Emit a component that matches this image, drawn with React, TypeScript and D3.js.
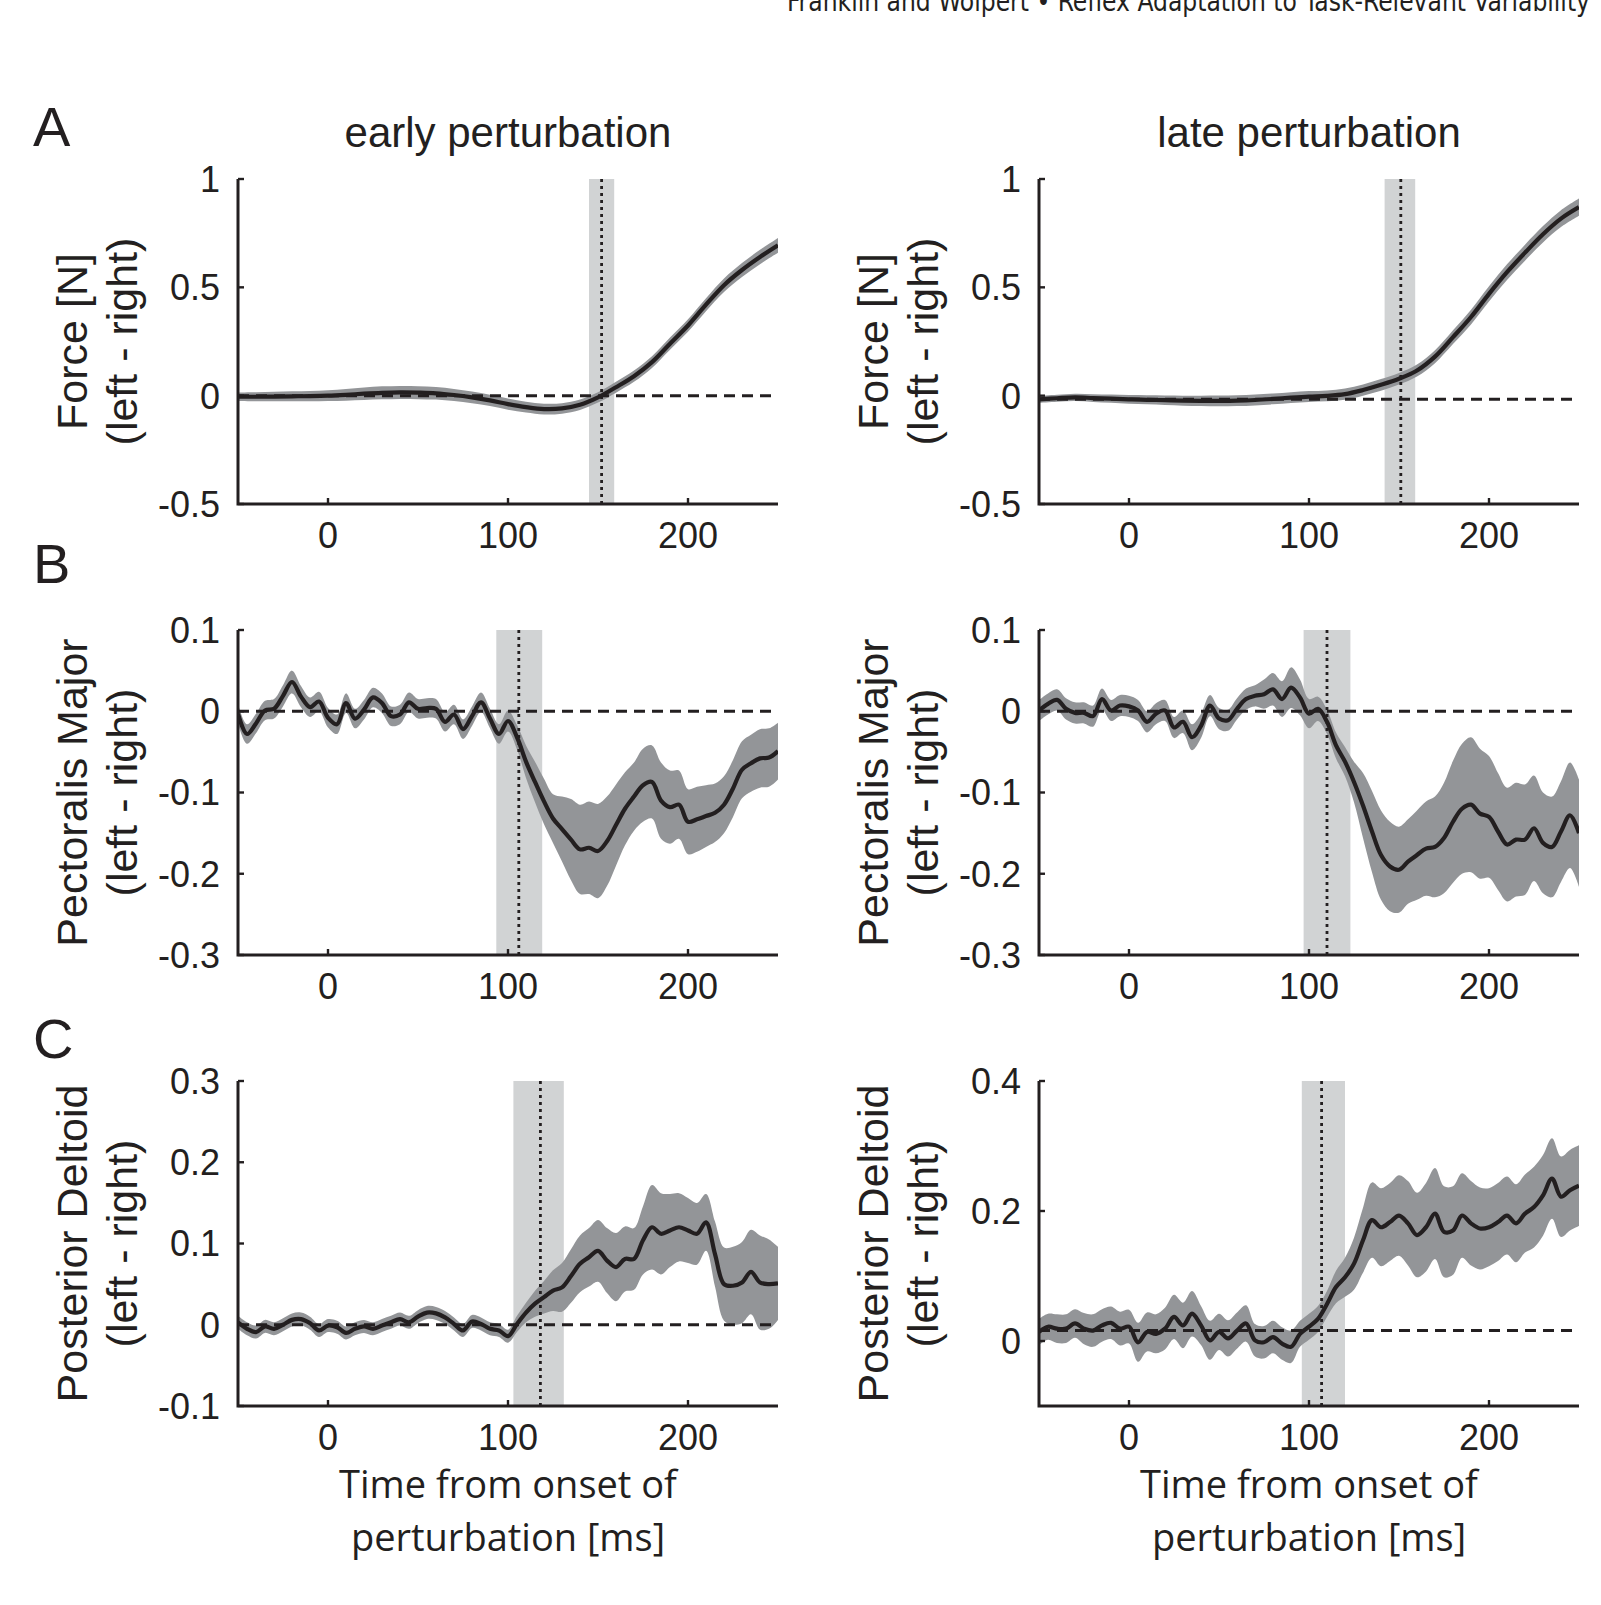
import * as d3 from 'd3'

// time grids, ms from onset of perturbation
const timeCoarse = [-50, -40, -30, -20, -10, 0, 10, 20, 30, 40, 50, 60, 70, 80, 90, 100, 110, 120, 130, 140, 150, 160, 170, 180, 190, 200, 210, 220, 230, 240, 250]
const timeFine = [-50, -45, -40, -35, -30, -25, -20, -15, -10, -5, 0, 5, 10, 15, 20, 25, 30, 35, 40, 45, 50, 55, 60, 65, 70, 75, 80, 85, 90, 95, 100, 105, 110, 115, 120, 125, 130, 135, 140, 145, 150, 155, 160, 165, 170, 175, 180, 185, 190, 195, 200, 205, 210, 215, 220, 225, 230, 235, 240, 245, 250]

// A: force
const forceEarlyMean = [-0.005, -0.005, -0.004, -0.003, -0.002, 0, 0.004, 0.009, 0.013, 0.015, 0.014, 0.011, 0.003, -0.008, -0.022, -0.039, -0.053, -0.062, -0.059, -0.042, -0.008, 0.039, 0.09, 0.155, 0.24, 0.324, 0.42, 0.51, 0.58, 0.64, 0.694]
const forceEarlySe = [0.02, 0.021, 0.022, 0.023, 0.024, 0.025, 0.027, 0.029, 0.03, 0.03, 0.03, 0.029, 0.028, 0.027, 0.026, 0.026, 0.025, 0.025, 0.024, 0.024, 0.024, 0.025, 0.026, 0.027, 0.028, 0.029, 0.03, 0.031, 0.032, 0.033, 0.034]
const forceLateMean = [-0.017, -0.012, -0.008, -0.011, -0.014, -0.017, -0.019, -0.021, -0.023, -0.024, -0.024, -0.023, -0.02, -0.015, -0.009, -0.004, -0.001, 0.007, 0.026, 0.05, 0.078, 0.116, 0.18, 0.27, 0.363, 0.47, 0.57, 0.66, 0.745, 0.817, 0.87]
const forceLateSe = [0.016, 0.016, 0.017, 0.018, 0.019, 0.02, 0.021, 0.022, 0.023, 0.024, 0.025, 0.025, 0.025, 0.025, 0.025, 0.025, 0.025, 0.026, 0.026, 0.027, 0.027, 0.028, 0.03, 0.032, 0.034, 0.035, 0.036, 0.037, 0.038, 0.039, 0.04]

// B: pectoralis major
const pectEarlyMean = [-0.003, -0.028, -0.015, 0.001, 0.003, 0.019, 0.036, 0.018, 0.005, 0.012, -0.008, -0.016, 0.01, -0.009, 0.002, 0.017, 0.01, -0.006, -0.004, 0.011, 0.003, 0.004, 0.003, -0.013, -0.004, -0.022, -0.006, 0.011, -0.009, -0.028, -0.012, -0.032, -0.062, -0.087, -0.111, -0.132, -0.145, -0.158, -0.17, -0.168, -0.172, -0.16, -0.14, -0.12, -0.105, -0.091, -0.087, -0.11, -0.118, -0.115, -0.136, -0.133, -0.129, -0.125, -0.115, -0.095, -0.072, -0.064, -0.058, -0.057, -0.049]
const pectEarlySe = [0.012, 0.012, 0.012, 0.012, 0.012, 0.013, 0.014, 0.013, 0.012, 0.012, 0.012, 0.012, 0.012, 0.012, 0.012, 0.012, 0.012, 0.012, 0.012, 0.012, 0.012, 0.012, 0.012, 0.012, 0.012, 0.012, 0.012, 0.012, 0.012, 0.012, 0.013, 0.015, 0.02, 0.025, 0.028, 0.03, 0.04, 0.05, 0.055, 0.057, 0.058, 0.055, 0.05, 0.045, 0.042, 0.045, 0.045, 0.047, 0.045, 0.042, 0.04, 0.04, 0.038, 0.036, 0.035, 0.035, 0.035, 0.035, 0.036, 0.036, 0.035]
const pectLateMean = [0.001, 0.009, 0.014, 0.003, -0.002, -0.002, -0.006, 0.015, 0.001, 0.007, 0.006, 0.001, -0.013, -0.003, 0.001, -0.02, -0.013, -0.032, -0.018, 0.007, -0.009, -0.011, 0.003, 0.015, 0.019, 0.021, 0.027, 0.015, 0.029, 0.017, -0.003, 0.003, -0.013, -0.042, -0.062, -0.087, -0.116, -0.148, -0.177, -0.191, -0.195, -0.185, -0.177, -0.169, -0.167, -0.156, -0.136, -0.12, -0.115, -0.126, -0.13, -0.148, -0.164, -0.158, -0.158, -0.144, -0.162, -0.167, -0.148, -0.128, -0.15]
const pectLateSe = [0.013, 0.013, 0.013, 0.013, 0.013, 0.013, 0.013, 0.013, 0.013, 0.013, 0.013, 0.013, 0.013, 0.013, 0.013, 0.013, 0.014, 0.016, 0.015, 0.013, 0.013, 0.013, 0.013, 0.013, 0.013, 0.018, 0.02, 0.022, 0.025, 0.022, 0.018, 0.015, 0.015, 0.016, 0.018, 0.025, 0.04, 0.05, 0.055, 0.055, 0.053, 0.052, 0.055, 0.058, 0.062, 0.068, 0.075, 0.08, 0.083, 0.08, 0.075, 0.072, 0.07, 0.07, 0.068, 0.065, 0.062, 0.062, 0.062, 0.065, 0.066]

// C: posterior deltoid
const deltEarlyMean = [0.003, -0.005, -0.009, -0.002, -0.005, 0, 0.006, 0.007, 0.002, -0.007, -0.001, -0.003, -0.01, -0.005, -0.002, -0.005, -0.001, 0.003, 0.007, 0.003, 0.01, 0.015, 0.014, 0.009, 0.001, -0.007, 0.004, 0.001, -0.005, -0.007, -0.014, 0.001, 0.015, 0.026, 0.034, 0.042, 0.046, 0.06, 0.075, 0.083, 0.091, 0.079, 0.071, 0.081, 0.081, 0.104, 0.12, 0.112, 0.116, 0.12, 0.116, 0.112, 0.126, 0.087, 0.05, 0.048, 0.052, 0.065, 0.052, 0.05, 0.051]
const deltEarlySe = [0.008, 0.008, 0.008, 0.008, 0.008, 0.008, 0.008, 0.008, 0.008, 0.008, 0.008, 0.008, 0.008, 0.008, 0.008, 0.008, 0.008, 0.008, 0.008, 0.008, 0.008, 0.008, 0.008, 0.008, 0.008, 0.008, 0.008, 0.008, 0.008, 0.008, 0.008, 0.01, 0.012, 0.016, 0.02, 0.025, 0.03, 0.033, 0.035, 0.036, 0.038, 0.04, 0.042, 0.04, 0.038, 0.042, 0.052, 0.05, 0.045, 0.042, 0.04, 0.038, 0.035, 0.04, 0.045, 0.048, 0.05, 0.052, 0.058, 0.055, 0.045]
const deltLateMean = [0.014, 0.022, 0.019, 0.019, 0.027, 0.019, 0.016, 0.024, 0.028, 0.019, 0.022, -0.002, 0.014, 0.011, 0.019, 0.037, 0.024, 0.042, 0.024, 0.001, 0.014, 0.004, 0.016, 0.027, 0.001, -0.002, 0.006, -0.004, -0.009, 0.011, 0.022, 0.034, 0.057, 0.083, 0.098, 0.119, 0.155, 0.186, 0.175, 0.183, 0.193, 0.181, 0.163, 0.175, 0.196, 0.168, 0.17, 0.193, 0.181, 0.173, 0.175, 0.183, 0.193, 0.181, 0.196, 0.206, 0.224, 0.25, 0.222, 0.232, 0.239]
const deltLateSe = [0.02, 0.02, 0.022, 0.022, 0.022, 0.024, 0.025, 0.025, 0.025, 0.026, 0.026, 0.03, 0.03, 0.03, 0.032, 0.034, 0.035, 0.035, 0.03, 0.03, 0.028, 0.028, 0.028, 0.028, 0.025, 0.025, 0.025, 0.025, 0.025, 0.02, 0.02, 0.02, 0.02, 0.025, 0.03, 0.04, 0.05, 0.058, 0.06, 0.06, 0.062, 0.065, 0.065, 0.068, 0.07, 0.07, 0.068, 0.065, 0.065, 0.063, 0.06, 0.06, 0.06, 0.06, 0.06, 0.062, 0.062, 0.062, 0.062, 0.062, 0.062]

// reflex windows [start, end] and mean onset (ms), baselines
const windowsEarly = [[145, 159], [93.5, 119], [103, 131]]
const windowsLate = [[142, 159], [97, 123], [96, 120]]
const onsetEarly = [152, 106, 118]
const onsetLate = [151, 110, 107]
const baselineEarly = [0, 0, 0]
const baselineLate = [-0.017, 0, 0.016]

const xTicks = [0, 100, 200]
const forceTicks = [-0.5, 0, 0.5, 1]
const pectTicks = [-0.3, -0.2, -0.1, 0, 0.1]
const deltEarlyTicks = [-0.1, 0, 0.1, 0.2, 0.3]
const deltLateTicks = [0, 0.2, 0.4]

const columnTitles = ['early perturbation', 'late perturbation']
const rowLabels = [
  ['Force [N]', '(left - right)'],
  ['Pectoralis Major', '(left - right)'],
  ['Posterior Deltoid', '(left - right)'],
]
const xLabel = ['Time from onset of', 'perturbation [ms]']
const header = 'Franklin and Wolpert \u2022 Reflex Adaptation to Task-Relevant Variability'

const W = 1601
const H = 1605
const colX = [238, 1039]
const rowY = [179, 630, 1081]
const plotW = 540
const plotH = 325
const ink = '#231f20'
const sans = 'Liberation Sans, Arial, Helvetica, sans-serif'

type PanelDef = {
  key: string
  col: number
  row: number
  t: number[]
  mean: number[]
  se: number[]
  domain: [number, number]
  ticks: number[]
  win: number[]
  onset: number
  base: number
}

const panels: PanelDef[] = [
  { key: 'a0', col: 0, row: 0, t: timeCoarse, mean: forceEarlyMean, se: forceEarlySe, domain: [-0.5, 1], ticks: forceTicks, win: windowsEarly[0], onset: onsetEarly[0], base: baselineEarly[0] },
  { key: 'a1', col: 1, row: 0, t: timeCoarse, mean: forceLateMean, se: forceLateSe, domain: [-0.5, 1], ticks: forceTicks, win: windowsLate[0], onset: onsetLate[0], base: baselineLate[0] },
  { key: 'b0', col: 0, row: 1, t: timeFine, mean: pectEarlyMean, se: pectEarlySe, domain: [-0.3, 0.1], ticks: pectTicks, win: windowsEarly[1], onset: onsetEarly[1], base: baselineEarly[1] },
  { key: 'b1', col: 1, row: 1, t: timeFine, mean: pectLateMean, se: pectLateSe, domain: [-0.3, 0.1], ticks: pectTicks, win: windowsLate[1], onset: onsetLate[1], base: baselineLate[1] },
  { key: 'c0', col: 0, row: 2, t: timeFine, mean: deltEarlyMean, se: deltEarlySe, domain: [-0.1, 0.3], ticks: deltEarlyTicks, win: windowsEarly[2], onset: onsetEarly[2], base: baselineEarly[2] },
  { key: 'c1', col: 1, row: 2, t: timeFine, mean: deltLateMean, se: deltLateSe, domain: [-0.1, 0.4], ticks: deltLateTicks, win: windowsLate[2], onset: onsetLate[2], base: baselineLate[2] },
]

type Pt = { t: number; m: number; s: number }

function Panel({ p }: { p: PanelDef }) {
  const left = colX[p.col]
  const top = rowY[p.row]
  const x = d3.scaleLinear([-50, 250], [left, left + plotW])
  const y = d3.scaleLinear(p.domain, [top + plotH, top])
  const pts: Pt[] = p.t.map((t, i) => ({ t, m: p.mean[i], s: p.se[i] }))

  const area = d3
    .area<Pt>()
    .x((d) => x(d.t))
    .y0((d) => y(d.m - d.s))
    .y1((d) => y(d.m + d.s))
    .curve(d3.curveCatmullRom)
  const line = d3
    .line<Pt>()
    .x((d) => x(d.t))
    .y((d) => y(d.m))
    .curve(d3.curveCatmullRom)

  const bottom = top + plotH
  const clip = `clip-${p.key}`

  return (
    <g>
      <clipPath id={clip}>
        <rect x={left} y={top} width={plotW} height={plotH} />
      </clipPath>
      <g clipPath={`url(#${clip})`}>
        <rect x={x(p.win[0])} y={top} width={x(p.win[1]) - x(p.win[0])} height={plotH} fill="#d1d3d4" />
        <path d={area(pts) ?? ''} fill="#939598" />
        <line x1={left} x2={left + plotW} y1={y(p.base)} y2={y(p.base)} stroke={ink} strokeWidth={3} strokeDasharray="11,7" />
        <line x1={x(p.onset)} x2={x(p.onset)} y1={top} y2={bottom} stroke={ink} strokeWidth={2.8} strokeDasharray="3,4" />
        <path d={line(pts) ?? ''} fill="none" stroke={ink} strokeWidth={4.2} strokeLinejoin="round" />
      </g>
      {/* axes, MATLAB style with inward ticks */}
      <path d={`M${left},${top}V${bottom}H${left + plotW}`} fill="none" stroke={ink} strokeWidth={3} />
      {p.ticks.map((v) => (
        <g key={v}>
          <line x1={left} x2={left + 6} y1={y(v)} y2={y(v)} stroke={ink} strokeWidth={2.4} />
          <text x={left - 18} y={y(v)} dy="0.36em" textAnchor="end" fontSize={36} fill={ink} fontFamily={sans}>
            {String(v)}
          </text>
        </g>
      ))}
      {xTicks.map((v) => (
        <g key={v}>
          <line x1={x(v)} x2={x(v)} y1={bottom} y2={bottom - 6} stroke={ink} strokeWidth={2.4} />
          <text x={x(v)} y={bottom + 44} textAnchor="middle" fontSize={36} fill={ink} fontFamily={sans}>
            {String(v)}
          </text>
        </g>
      ))}
      <text transform={`translate(${left - 151},${top + plotH / 2}) rotate(-90)`} textAnchor="middle" fontSize={43} fill={ink} fontFamily={sans}>
        {rowLabels[p.row][0]}
      </text>
      <text transform={`translate(${left - 101},${top + plotH / 2}) rotate(-90)`} textAnchor="middle" fontSize={43} fill={ink} fontFamily={sans}>
        {rowLabels[p.row][1]}
      </text>
    </g>
  )
}

export default function App() {
  return (
    <svg width={W} height={H} style={{ position: 'absolute', left: 0, top: 0, background: '#fff' }}>
      <rect width={W} height={H} fill="#fff" />
      <text x={1590} y={11} textAnchor="end" fontSize={28} fill={ink} fontFamily="Liberation Sans Narrow, DejaVu Sans Condensed, sans-serif" textLength={803} lengthAdjust="spacingAndGlyphs">
        {header}
      </text>
      {['A', 'B', 'C'].map((l, i) => (
        <text key={l} x={33} y={[146, 583, 1058][i]} fontSize={56} fill={ink} fontFamily={sans}>
          {l}
        </text>
      ))}
      {columnTitles.map((t, i) => (
        <text key={t} x={colX[i] + plotW / 2} y={147} textAnchor="middle" fontSize={42} fill={ink} fontFamily={sans}>
          {t}
        </text>
      ))}
      {panels.map((p) => (
        <Panel key={p.key} p={p} />
      ))}
      {colX.map((cx) => (
        <g key={cx}>
          {xLabel.map((s, j) => (
            <text key={s} x={cx + plotW / 2} y={1498 + j * 53} textAnchor="middle" fontSize={38} fill={ink} fontFamily="Open Sans, sans-serif">
              {s}
            </text>
          ))}
        </g>
      ))}
    </svg>
  )
}
